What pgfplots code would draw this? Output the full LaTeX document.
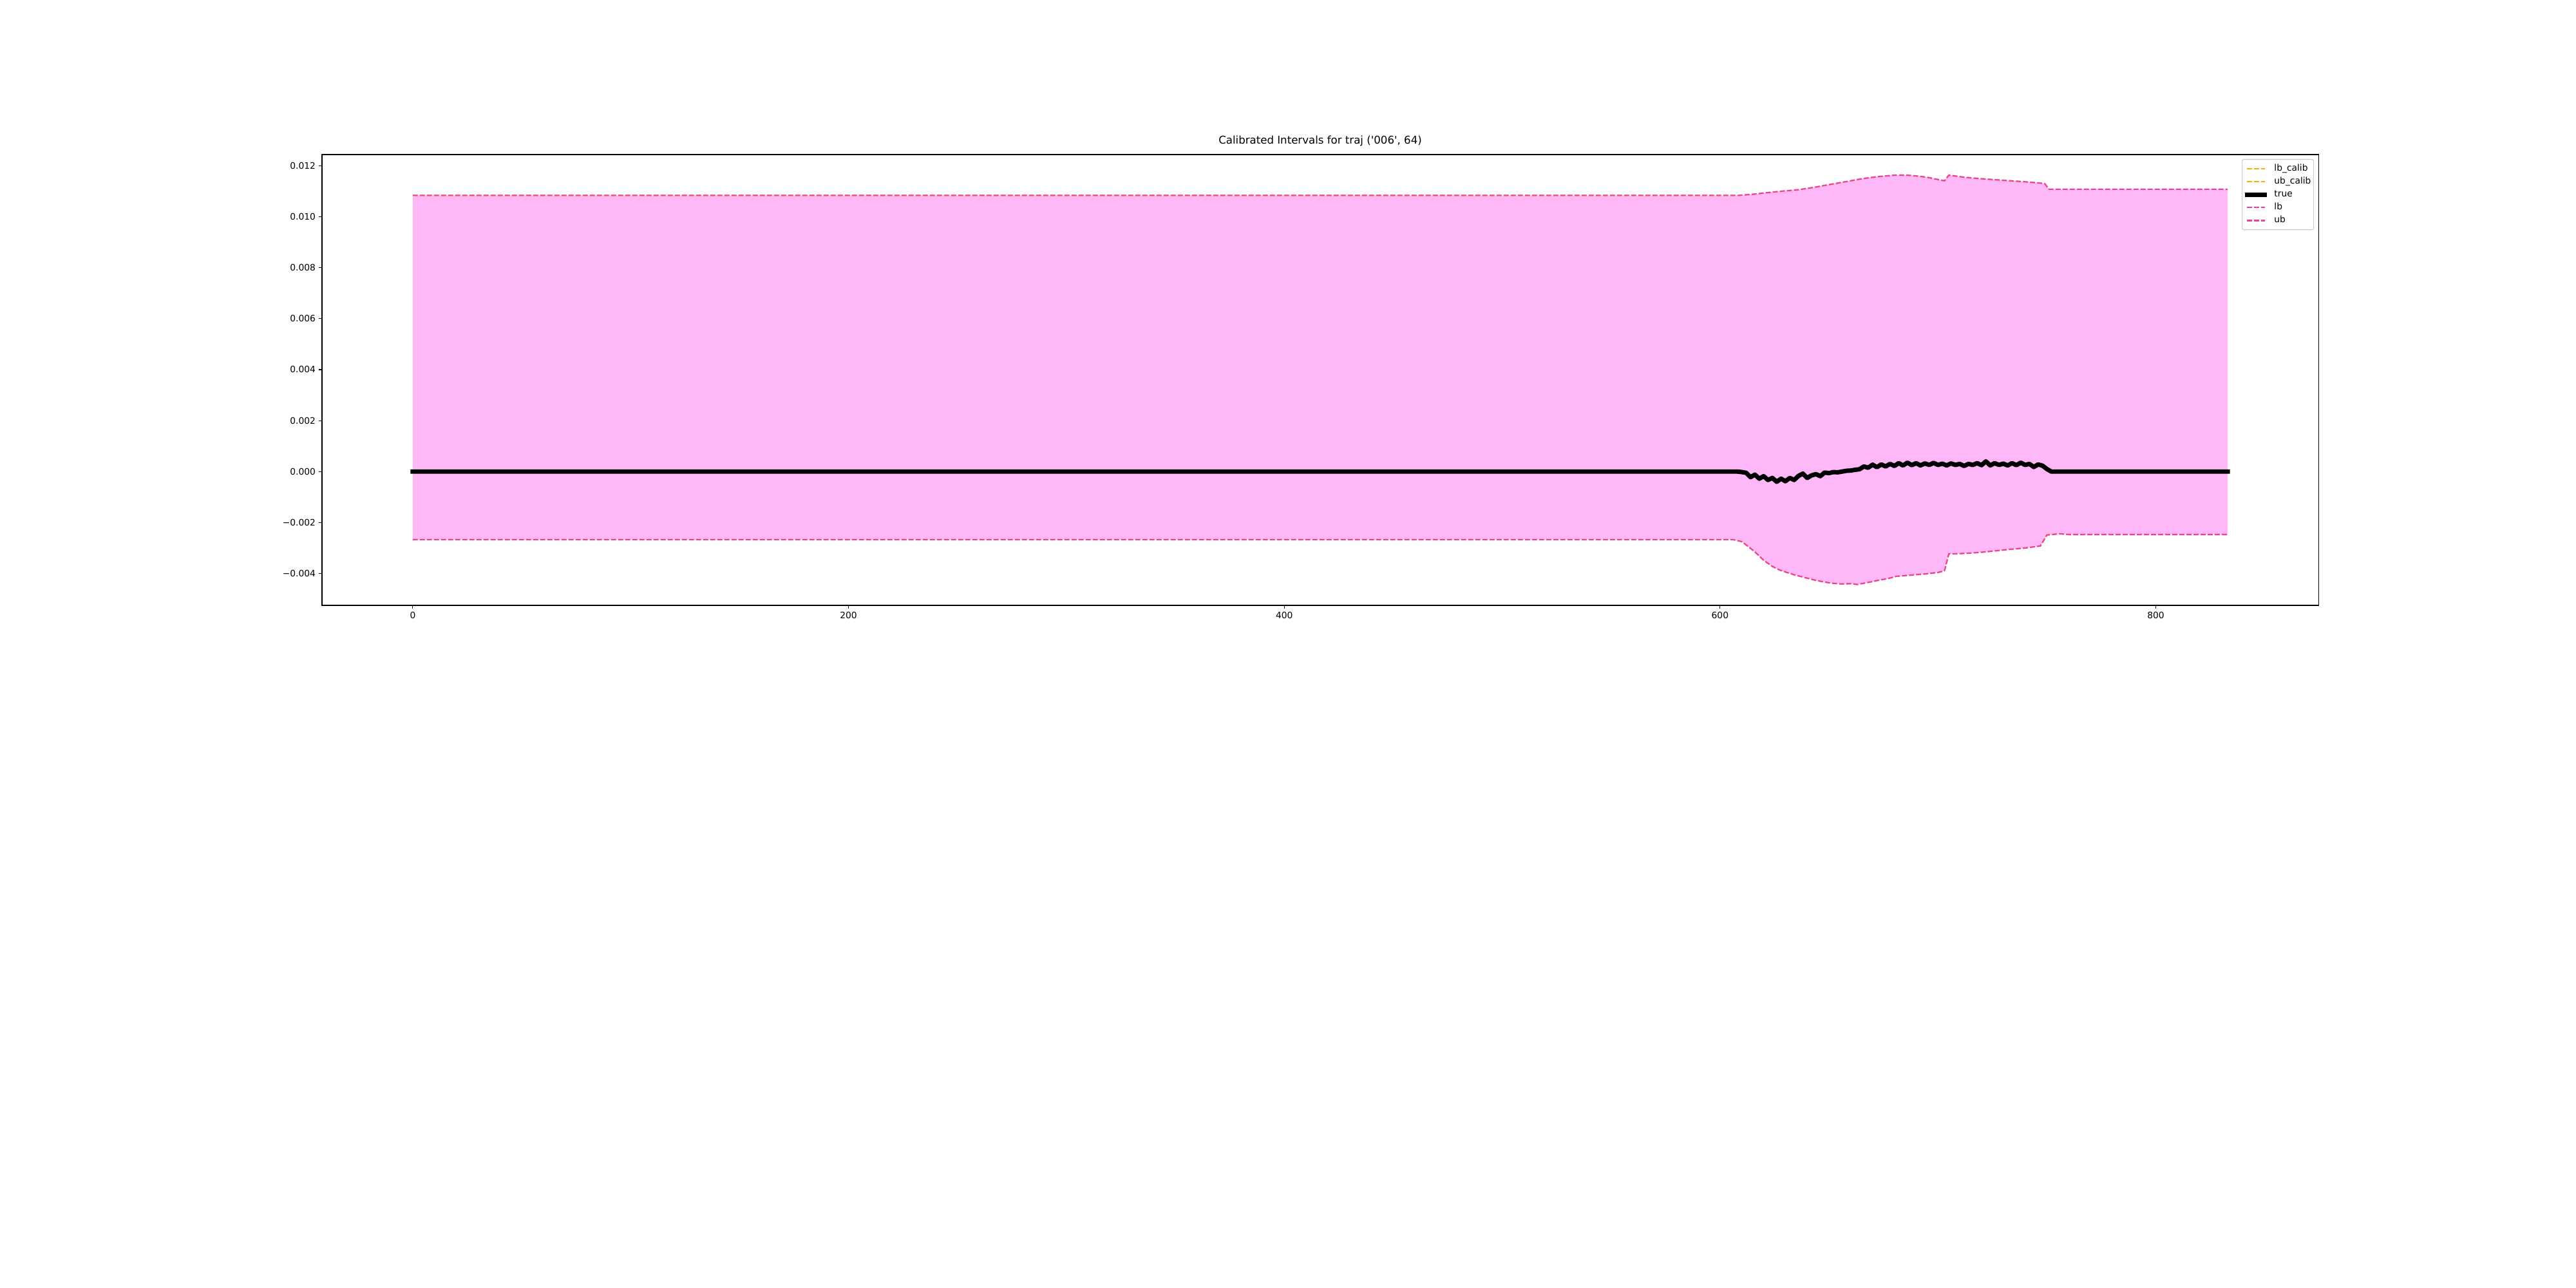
\documentclass[border=0pt]{standalone}
\usepackage{fontspec}
\usepackage{pgfplots}
\pgfplotsset{compat=1.18}
\usepgfplotslibrary{fillbetween}
\newfontfamily\dv{DejaVu Sans}
\definecolor{pinkline}{RGB}{240,60,165}
\definecolor{orangeline}{RGB}{245,176,0}
\definecolor{pinkfill}{RGB}{254,183,247}
\begin{document}
\begin{tikzpicture}
\path (0,0) rectangle (40in,20in);
\begin{axis}[
  at={(5in,10.6in)}, anchor=south west, scale only axis,
  width=31in, height=7in,
  xmin=-41.65, xmax=874.65, ymin=-0.00525, ymax=0.01244,
  axis line style={line width=0.8pt},
  every tick/.style={black, line width=0.8pt},
  tick align=outside, major tick length=3.5pt,
  xtick pos=bottom, ytick pos=left,
  xtick={0,200,400,600,800}, xticklabels={0,200,400,600,800},
  ytick={-0.004,-0.002,0,0.002,0.004,0.006,0.008,0.010,0.012},
  yticklabels={−0.004,−0.002,0.000,0.002,0.004,0.006,0.008,0.010,0.012},
  scaled y ticks=false, scaled x ticks=false,
  tick label style={font=\dv\fontsize{10}{12}\selectfont, inner sep=0pt},
  xticklabel style={anchor=north}, yticklabel style={anchor=east},
  xticklabel shift=3.5pt, yticklabel shift=3.5pt,
  title={Calibrated Intervals for traj ('006', 64)},
  title style={font=\dv\fontsize{12}{14}\selectfont, at={(0.5,1)}, anchor=base, yshift=6pt, inner sep=0pt},
  legend cell align=left,
  legend image code/.code={\draw[#1] (0pt,0pt) -- (20pt,0pt);},
  legend style={at={(1,1)}, anchor=north east, xshift=-5pt, yshift=-5pt,
    draw=black!20, rounded corners=2pt, line width=0.8pt, fill=white,
    font=\dv\fontsize{10}{12}\selectfont, inner xsep=3pt, inner ysep=3pt,
    column sep=8pt,
    nodes={inner xsep=0pt, inner ysep=2.3pt, text height=7.5pt, text depth=2.5pt}},
]
\addplot[name path=lbc, orangeline, line width=1.5pt, dash pattern=on 5.55pt off 2.4pt] coordinates {
(0,-0.00267) (606,-0.00267) (610,-0.00275) (612,-0.00288) (616,-0.00315) (620,-0.00348) (624,-0.00372) (627,-0.00385) (630,-0.00394) (634,-0.00405) (639,-0.00416) (643,-0.00425) (647,-0.00432) (651,-0.00438) (656,-0.00441) (660,-0.00440) (663,-0.00443) (668,-0.00435) (673,-0.00426) (677,-0.00420) (681,-0.00411) (688,-0.00406) (695,-0.00401) (700,-0.00396) (703,-0.00389) (705,-0.00323) (710,-0.00322) (715,-0.00320) (722,-0.00315) (732,-0.00306) (740,-0.00300) (747,-0.00292) (750,-0.00249) (756,-0.00244) (760,-0.00247) (833,-0.00247)
};
\addlegendentry{lb\_calib}
\addplot[name path=ubc, orangeline, line width=1.5pt, dash pattern=on 5.55pt off 2.4pt] coordinates {
(0,0.01084) (609,0.01084) (615,0.01088) (621,0.01094) (628,0.01100) (636,0.01106) (643,0.01115) (650,0.01126) (658,0.01138) (665,0.01149) (672,0.01157) (680,0.01163) (686,0.01163) (690,0.01160) (695,0.01155) (700,0.01146) (703,0.01141) (705,0.01163) (712,0.01155) (720,0.01149) (730,0.01143) (740,0.01137) (747,0.01132) (749,0.01130) (751,0.01108) (833,0.01108)
};
\addlegendentry{ub\_calib}
\addplot[pinkfill, draw=none, forget plot] fill between[of=ubc and lbc];
\addplot[black, line width=5pt, line cap=rect, line join=round] coordinates {
(0,0) (608,0) (610,-0.00002) (612,-0.00005) (614,-0.00022) (616,-0.00012) (618,-0.00028) (620,-0.00018) (622,-0.00033) (624,-0.00025) (626,-0.00040) (628,-0.00028) (630,-0.00038) (632,-0.00025) (634,-0.00033) (636,-0.00017) (638,-0.00008) (640,-0.00025) (642,-0.00015) (644,-0.00010) (646,-0.00018) (648,-0.00004) (650,-0.00006) (652,-0.00002) (654,-0.00003) (656,0.00000) (658,0.00003) (660,0.00004) (662,0.00007) (664,0.00009) (666,0.00020) (668,0.00015) (670,0.00027) (672,0.00017) (674,0.00028) (676,0.00020) (678,0.00030) (680,0.00022) (682,0.00033) (684,0.00024) (686,0.00035) (688,0.00025) (690,0.00033) (692,0.00024) (694,0.00032) (696,0.00026) (698,0.00034) (700,0.00026) (702,0.00031) (704,0.00024) (706,0.00032) (708,0.00026) (710,0.00030) (712,0.00022) (714,0.00030) (716,0.00026) (718,0.00033) (720,0.00025) (722,0.00040) (724,0.00024) (726,0.00033) (728,0.00026) (730,0.00031) (732,0.00024) (734,0.00033) (736,0.00025) (738,0.00035) (740,0.00026) (742,0.00030) (744,0.00018) (746,0.00028) (748,0.00023) (750,0.00010) (752,0.00000) (833,0.00000)
};
\addlegendentry{true}
\addplot[pinkline, line width=1.5pt, dash pattern=on 5.55pt off 2.4pt] coordinates {
(0,-0.00267) (606,-0.00267) (610,-0.00275) (612,-0.00288) (616,-0.00315) (620,-0.00348) (624,-0.00372) (627,-0.00385) (630,-0.00394) (634,-0.00405) (639,-0.00416) (643,-0.00425) (647,-0.00432) (651,-0.00438) (656,-0.00441) (660,-0.00440) (663,-0.00443) (668,-0.00435) (673,-0.00426) (677,-0.00420) (681,-0.00411) (688,-0.00406) (695,-0.00401) (700,-0.00396) (703,-0.00389) (705,-0.00323) (710,-0.00322) (715,-0.00320) (722,-0.00315) (732,-0.00306) (740,-0.00300) (747,-0.00292) (750,-0.00249) (756,-0.00244) (760,-0.00247) (833,-0.00247)
};
\addlegendentry{lb}
\addplot[pinkline, line width=1.5pt, dash pattern=on 5.55pt off 2.4pt] coordinates {
(0,0.01084) (609,0.01084) (615,0.01088) (621,0.01094) (628,0.01100) (636,0.01106) (643,0.01115) (650,0.01126) (658,0.01138) (665,0.01149) (672,0.01157) (680,0.01163) (686,0.01163) (690,0.01160) (695,0.01155) (700,0.01146) (703,0.01141) (705,0.01163) (712,0.01155) (720,0.01149) (730,0.01143) (740,0.01137) (747,0.01132) (749,0.01130) (751,0.01108) (833,0.01108)
};
\addlegendentry{ub}
\end{axis}
\end{tikzpicture}
\end{document}
